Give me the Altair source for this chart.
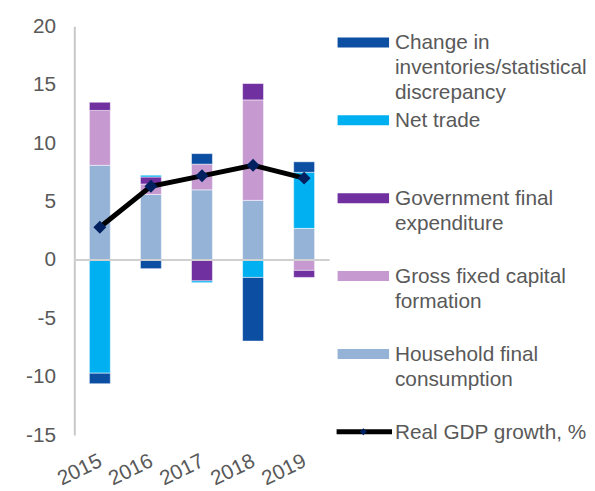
import altair as alt
import pandas as pd

# ---- data ----
years = ["2015", "2016", "2017", "2018", "2019"]
components = [
    "Household final consumption",
    "Gross fixed capital formation",
    "Government final expenditure",
    "Net trade",
    "Change in inventories/statistical discrepancy",
]
household = [8.1, 5.6, 6.0, 5.1, 2.7]
gfcf = [4.7, 0.9, 2.2, 8.6, -0.9]
government = [0.7, 0.6, -1.8, 1.4, -0.6]
net_trade = [-9.7, 0.15, -0.15, -1.5, 4.8]
inventories = [-0.9, -0.75, 0.9, -5.45, 0.9]
gdp_growth = [2.8, 6.3, 7.2, 8.1, 7.0]

colors = ["#95B3D7", "#C699D1", "#7030A0", "#00B0F0", "#0B4EA2"]

legend_order = [
    "Change in inventories/statistical discrepancy",
    "Net trade",
    "Government final expenditure",
    "Gross fixed capital formation",
    "Household final consumption",
]
legend_text = [
    "\u00a0Change in|inventories/statistical|discrepancy",
    "\u00a0Net trade",
    "\u00a0Government final|expenditure",
    "\u00a0Gross fixed capital|formation",
    "\u00a0Household final|consumption",
]
line_label = "Real GDP growth, %"

FONT = "Liberation Sans"
TXT = "#595959"
FS = 21

# ---- tables ----
series = [household, gfcf, government, net_trade, inventories]
rows = []
for k, (name, vals) in enumerate(zip(components, series)):
    for yr, v in zip(years, vals):
        rows.append({"year": yr, "component": name, "value": v, "order": k})
bars_df = pd.DataFrame(rows)
gdp_df = pd.DataFrame({"year": years, "value": gdp_growth})
zero_df = pd.DataFrame({"value": [0]})

x_enc = alt.X(
    "year:O",
    title=None,
    scale=alt.Scale(paddingInner=0.59, paddingOuter=0.295),
    axis=alt.Axis(
        labelAngle=-26, labelAlign="right", labelBaseline="top", labelPadding=15,
        labelOffset=-4, domain=False, ticks=False, labelFontSize=FS, labelColor=TXT,
        labelFont=FONT,
    ),
)
y_enc = alt.Y(
    "value:Q",
    title=None,
    stack="zero",
    scale=alt.Scale(domain=[-15, 20], nice=False, zero=False),
    axis=alt.Axis(
        values=list(range(-15, 21, 5)), grid=False, ticks=False, labelPadding=19,
        domainColor="#C8C8C8", domainWidth=2, labelFontSize=FS, labelColor=TXT,
        labelFont=FONT, labelExpr="'' + datum.value",
    ),
)
color_scale = alt.Scale(domain=components, range=colors)

bars = alt.Chart(bars_df).mark_bar(stroke="white", strokeWidth=0.5).encode(
    x=x_enc,
    y=y_enc,
    color=alt.Color("component:N", scale=color_scale, legend=None),
    order=alt.Order("order:Q", sort="ascending"),
)
zero = alt.Chart(zero_df).mark_rule(color="#D0D0D0", strokeWidth=2).encode(y=y_enc)
line = alt.Chart(gdp_df).mark_line(color="black", strokeWidth=5).encode(x=x_enc, y=y_enc)
pts = alt.Chart(gdp_df).mark_point(
    shape="diamond", filled=True, size=170, color="#002060", opacity=1
).encode(x=x_enc, y=y_enc)

main = alt.layer(bars, zero, line, pts).properties(width=258, height=413)

# ---- custom legend panel ----
leg_df = pd.DataFrame({
    "idx": list(range(len(legend_order))),
    "component": legend_order,
    "label": legend_text,
})
line_df = pd.DataFrame({"idx": [len(legend_order)], "label": [line_label]})

ly = alt.Y("idx:Q", axis=None,
           scale=alt.Scale(domain=[-0.207, 5.042], reverse=True, nice=False, zero=False))

swatch = alt.Chart(leg_df).mark_rule(strokeWidth=10, strokeCap="butt").encode(
    x=alt.value(0), x2=alt.value(52), y=ly,
    color=alt.Color("component:N", scale=color_scale, legend=None),
)
leg_line = alt.Chart(line_df).mark_rule(strokeWidth=5, color="black").encode(
    x=alt.value(-1), x2=alt.value(55), y=ly
)
leg_pt = alt.Chart(line_df).mark_point(
    shape="diamond", filled=True, size=50, color="#002060", opacity=1
).encode(x=alt.value(26), y=ly)
leg_text_df = pd.concat([leg_df[["idx", "label"]], line_df], ignore_index=True)
leg_text = alt.Chart(leg_text_df).transform_calculate(
    lines="split(datum.label, '|')"
).mark_text(
    align="left", baseline="alphabetic", dy=7, fontSize=FS, lineHeight=25,
    color=TXT, font=FONT,
).encode(x=alt.value(58), y=ly, text="lines:N")

legend = alt.layer(swatch, leg_line, leg_pt, leg_text).properties(width=240, height=413)

chart = alt.hconcat(main, legend, spacing=8, bounds="flush").properties(
    padding={"left": 17, "top": 5, "right": 0, "bottom": 0}
).configure(background="white").configure_view(stroke=None)

chart.save("out.html", embed_options={"renderer": "svg", "actions": False})
